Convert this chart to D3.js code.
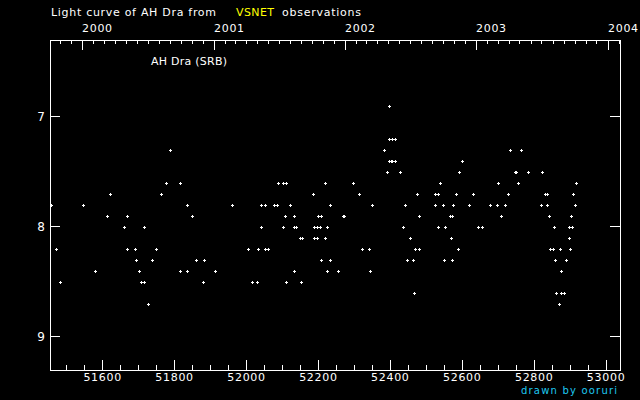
<!DOCTYPE html>
<html>
<head>
<meta charset="utf-8">
<script src="https://cdn.jsdelivr.net/npm/d3@7/dist/d3.min.js"></script>
<style>
html,body{margin:0;padding:0;background:#000;}
svg{display:block;background:#000;}
text{font-family:"DejaVu Sans",sans-serif;fill:#fff;}
</style>
</head>
<body>
<svg id="chart" width="640" height="400"></svg>
<script>
// Julian Date - 2400000 of each observation
const jd = [
 51789,51778,51817,51622,51764,51458,51547,51836,51961,51614,51670,51850,51661,51717,
 51472,51670,51692,51750,51694,51739,51861,51883,51580,51703,51817,51836,51914,51483,
 51708,51717,51881,51728,
 52398,52398,52405,52413,52384,52398,52402,52406,52413,52392,52428,
 52089,52103,52111,52220,52298,52186,52314,52475,
 52042,52053,52078,52086,52122,52234,52350,52442,
 52109,52134,52200,52208,52270,52272,52481,
 52042,52103,52134,52139,52190,52197,52206,52225,52436,
 52150,52156,52189,52197,52220,52456,
 52006,52034,52053,52061,52323,52342,52470,52481,
 52209,52234,52448,52464,
 52134,52225,52256,52345,
 52017,52031,52111,52153,
 52467,
 52734,52764,52600,52592,52748,52752,52784,52823,
 52539,52700,52756,52917,
 52525,52534,52584,52631,52728,52831,52837,52909,
 52525,52548,52575,52620,52678,52698,52720,52820,52837,52914,
 52567,52573,52709,52842,52903,
 52534,52553,52645,52656,52856,52898,52906,
 52570,52898,
 52589,52845,52853,52873,52901,
 52550,52573,52859,52890,
 52876,
 52862,52876,52884,
 52870
];
// visual magnitude of each observation
const mag = [
 7.3,7.6,7.6,7.7,7.7,7.8,7.8,7.8,7.8,7.9,7.9,7.9,8.0,8.0,
 8.2,8.2,8.2,8.2,8.3,8.3,8.3,8.3,8.4,8.4,8.4,8.4,8.4,8.5,
 8.5,8.5,8.5,8.7,
 6.9,7.2,7.2,7.2,7.3,7.4,7.4,7.4,7.4,7.5,7.5,
 7.6,7.6,7.6,7.6,7.6,7.7,7.7,7.7,
 7.8,7.8,7.8,7.8,7.8,7.8,7.8,7.8,
 7.9,7.9,7.9,7.9,7.9,7.9,7.9,
 8.0,8.0,8.0,8.0,8.0,8.0,8.0,8.0,8.0,
 8.1,8.1,8.1,8.1,8.1,8.1,
 8.2,8.2,8.2,8.2,8.2,8.2,8.2,8.2,
 8.3,8.3,8.3,8.3,
 8.4,8.4,8.4,8.4,
 8.5,8.5,8.5,8.5,
 8.6,
 7.3,7.3,7.4,7.5,7.5,7.5,7.5,7.5,
 7.6,7.6,7.6,7.6,
 7.7,7.7,7.7,7.7,7.7,7.7,7.7,7.7,
 7.8,7.8,7.8,7.8,7.8,7.8,7.8,7.8,7.8,7.8,
 7.9,7.9,7.9,7.9,7.9,
 8.0,8.0,8.0,8.0,8.0,8.0,8.0,
 8.1,8.1,
 8.2,8.2,8.2,8.2,8.2,
 8.3,8.3,8.3,8.3,
 8.4,
 8.6,8.6,8.6,
 8.7
];
const jdTicks = [51600,51800,52000,52200,52400,52600,52800,53000];
const magTicks = [7,8,9];
const years = [2000,2001,2002,2003,2004];

const svg = d3.select("#chart");
const L = 50, R = 620, T = 40, B = 370;
const x = d3.scaleLinear().domain([51455, 53040]).range([L, R]);
const y = d3.scaleLinear().domain([6.3, 9.3]).range([T, B]);

// title
const title = svg.append("g").style("font-size","11px");
title.append("text").attr("x",51).attr("y",16).attr("textLength",165).attr("lengthAdjust","spacing").text("Light curve of AH Dra from");
title.append("text").attr("x",236).attr("y",16).attr("textLength",38).attr("lengthAdjust","spacing").style("fill","#ffff00").text("VSNET");
title.append("text").attr("x",282).attr("y",16).attr("textLength",79).attr("lengthAdjust","spacing").text("observations");

// frame
svg.append("rect").attr("x",L+0.5).attr("y",T+0.5).attr("width",R-L).attr("height",B-T)
  .attr("fill","none").attr("stroke","#fff").attr("stroke-width",1).attr("shape-rendering","crispEdges");

// bottom axis (JD)
const minorJD = d3.range(51500, 53041, 50).filter(v => x(v) > L && x(v) < R);
const g = svg.append("g").attr("shape-rendering","crispEdges").attr("stroke","#fff");
minorJD.forEach(v => {
  const major = jdTicks.includes(v);
  const px = Math.round(x(v)) + 0.5;
  g.append("line").attr("x1",px).attr("x2",px).attr("y1",B).attr("y2",B-(major?10:5));
});
svg.append("g").style("font-size","11px").style("letter-spacing","0.7px")
  .selectAll("text").data(jdTicks).join("text")
  .attr("x", d => x(d)+0.5).attr("y", 381).attr("text-anchor","middle").text(d => d);

// top axis (calendar)
const mjdOf = (yy, mm) => Date.UTC(yy, mm, 1) / 86400000 + 40587; // JD-2400000 at 0h UT is this + 0.5
for (let yy = 1999; yy <= 2004; yy++) {
  for (let mm = 0; mm < 12; mm++) {
    const v = mjdOf(yy, mm) + 0.5;
    const px = x(v);
    if (px <= L || px >= R) continue;
    const p = Math.round(px) + 0.5;
    g.append("line").attr("x1",p).attr("x2",p).attr("y1",T).attr("y2",T+(mm===0?10:4));
  }
}
svg.append("g").style("font-size","11px").style("letter-spacing","0.7px")
  .selectAll("text").data(years).join("text")
  .attr("x", d => Math.round(x(mjdOf(d,0)+0.5))).attr("y", 32).text(d => d);

// y axis ticks both sides
magTicks.forEach(m => {
  const p = Math.round(y(m)) - 0.5;
  g.append("line").attr("x1",L).attr("x2",L+10).attr("y1",p).attr("y2",p);
  g.append("line").attr("x1",R).attr("x2",R-10).attr("y1",p).attr("y2",p);
});
svg.append("g").style("font-size","12px")
  .selectAll("text").data(magTicks).join("text")
  .attr("x", 45).attr("y", d => y(d)+4).attr("text-anchor","end").text(d => d);

// star label
svg.append("text").attr("x",151).attr("y",65).style("font-size","11px")
  .attr("textLength",76).attr("lengthAdjust","spacing").text("AH Dra (SRB)");

// points (small plus marks)
const pts = svg.append("g").attr("fill","#fff").attr("shape-rendering","crispEdges");
jd.forEach((d, i) => {
  const px = Math.round(x(d)), py = Math.round(y(mag[i]));
  pts.append("rect").attr("x",px-1).attr("y",py).attr("width",3).attr("height",1);
  pts.append("rect").attr("x",px).attr("y",py-1).attr("width",1).attr("height",3);
});

// credit
svg.append("text").attr("x",521).attr("y",394).style("font-size","10px").style("fill","#1ec8f0")
  .attr("textLength",96).attr("lengthAdjust","spacing").text("drawn by ooruri");
</script>
</body>
</html>
